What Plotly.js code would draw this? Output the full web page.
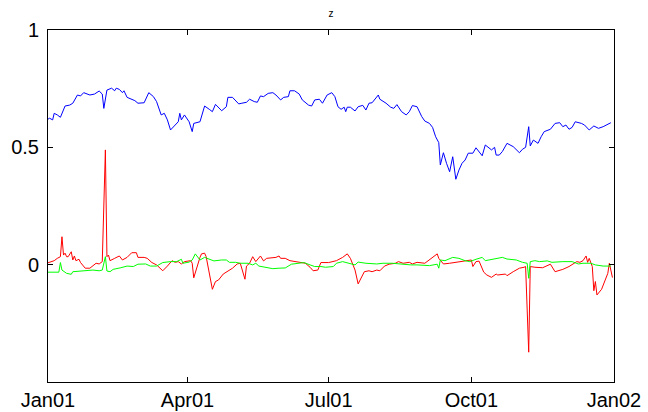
<!DOCTYPE html>
<html>
<head>
<meta charset="utf-8">
<script src="https://cdn.plot.ly/plotly-3.0.1.min.js"></script>
<style>html,body{margin:0;padding:0;background:#fff;}#chart{width:648px;height:412px;}</style>
</head>
<body>
<div id="chart"></div>
<script>
const YEAR = "2001";
const tickDates = ["2001-01-01", "2001-04-01", "2001-07-01", "2001-10-01", "2002-01-01"];
const tickLabels = ["Jan01", "Apr01", "Jul01", "Oct01", "Jan02"];
const yTicks = [0, 0.5, 1];

const blueDates = ["01-01","01-02","01-04","01-05","01-07","01-09","01-12","01-15","01-17","01-20","01-22","01-24","01-28","01-31","02-03","02-05","02-06","02-08","02-11","02-13","02-14","02-16","02-18","02-19","02-21","02-24","02-26","02-28","03-02","03-04","03-07","03-10","03-12","03-15","03-17","03-19","03-21","03-24","03-26","03-27","03-28","03-30","04-02","04-04","04-05","04-09","04-12","04-15","04-17","04-19","04-23","04-26","04-27","04-30","05-04","05-06","05-09","05-11","05-14","05-16","05-18","05-20","05-23","05-26","05-28","05-31","06-02","06-05","06-06","06-09","06-12","06-14","06-18","06-20","06-22","06-25","06-27","06-30","07-03","07-05","07-07","07-09","07-11","07-12","07-13","07-15","07-18","07-20","07-23","07-25","07-27","07-29","08-02","08-03","08-07","08-10","08-12","08-14","08-17","08-20","08-22","08-24","08-27","08-30","09-01","09-04","09-06","09-08","09-10","09-11","09-13","09-15","09-17","09-19","09-21","09-23","09-25","09-27","09-29","10-02","10-04","10-08","10-10","10-14","10-16","10-17","10-19","10-21","10-24","10-28","11-01","11-03","11-05","11-07","11-08","11-10","11-13","11-15","11-17","11-21","11-24","11-27","11-29","12-01","12-03","12-05","12-07","12-11","12-13","12-16","12-19","12-22","12-25","12-30"];
const blueValues = [0.620,0.624,0.617,0.645,0.638,0.628,0.676,0.680,0.688,0.723,0.719,0.733,0.723,0.727,0.740,0.727,0.666,0.744,0.752,0.741,0.752,0.747,0.733,0.741,0.713,0.705,0.699,0.688,0.690,0.690,0.733,0.716,0.695,0.638,0.645,0.617,0.574,0.595,0.609,0.645,0.617,0.638,0.609,0.567,0.602,0.609,0.676,0.662,0.652,0.683,0.656,0.673,0.713,0.713,0.685,0.688,0.692,0.705,0.695,0.692,0.719,0.716,0.730,0.733,0.723,0.702,0.713,0.716,0.741,0.741,0.727,0.702,0.680,0.676,0.702,0.705,0.688,0.723,0.733,0.716,0.673,0.662,0.671,0.652,0.671,0.671,0.655,0.673,0.679,0.659,0.688,0.690,0.723,0.705,0.688,0.671,0.666,0.682,0.652,0.638,0.652,0.678,0.673,0.631,0.612,0.602,0.585,0.545,0.520,0.425,0.477,0.432,0.396,0.460,0.364,0.403,0.432,0.446,0.475,0.475,0.498,0.464,0.510,0.489,0.500,0.467,0.467,0.482,0.517,0.503,0.477,0.492,0.500,0.588,0.506,0.531,0.517,0.545,0.567,0.577,0.602,0.605,0.588,0.595,0.577,0.585,0.609,0.602,0.595,0.574,0.591,0.581,0.588,0.605];

const redDates = ["01-01","01-03","01-05","01-07","01-09","01-10","01-11","01-12","01-13","01-14","01-16","01-17","01-18","01-19","01-21","01-22","01-25","01-28","01-30","02-01","02-03","02-05","02-07","02-08","02-09","02-10","02-13","02-16","02-18","02-21","02-24","02-27","02-28","03-04","03-06","03-09","03-12","03-16","03-19","03-22","03-24","03-26","03-28","03-30","04-03","04-04","04-05","04-07","04-09","04-10","04-12","04-13","04-15","04-17","04-19","04-21","04-24","04-27","04-30","05-03","05-05","05-08","05-09","05-11","05-13","05-15","05-18","05-20","05-22","05-28","05-30","05-31","06-03","06-06","06-10","06-13","06-16","06-19","06-21","06-24","06-26","07-01","07-06","07-10","07-13","07-15","07-18","07-20","07-22","07-24","07-27","07-29","08-01","08-03","08-06","08-09","08-13","08-15","08-18","08-22","08-24","08-27","09-01","09-04","09-07","09-09","09-10","09-12","09-13","09-17","09-20","09-23","09-28","10-01","10-02","10-04","10-06","10-09","10-11","10-14","10-17","10-18","10-23","10-24","10-28","11-01","11-04","11-05","11-07","11-08","11-11","11-16","11-21","11-22","11-24","11-29","12-03","12-08","12-10","12-12","12-14","12-15","12-16","12-18","12-19","12-20","12-21","12-24","12-28","12-29","12-31"];
const redValues = [0.008,0.013,0.017,0.027,0.034,0.119,0.041,0.049,0.034,0.034,0.055,0.020,0.037,0.017,0.023,0.009,-0.015,-0.015,-0.006,0.006,0.003,0.013,0.489,0.034,0.041,0.017,0.027,0.037,0.020,0.031,0.051,0.051,0.031,0.031,0.027,0.009,-0.001,-0.026,-0.006,0.017,0.010,0.013,0.003,0.013,0.017,0.006,-0.056,-0.008,0.031,0.046,0.049,0.034,-0.037,-0.105,-0.072,-0.065,-0.040,-0.026,-0.015,0.003,0.006,-0.062,-0.006,0.006,0.034,0.013,0.037,0.016,0.027,0.031,0.037,0.027,0.027,0.017,0.013,0.009,0.006,-0.011,-0.026,-0.023,0.009,0.009,0.017,0.031,0.046,0.027,-0.023,-0.082,-0.058,-0.030,-0.026,-0.030,-0.023,-0.026,-0.006,0.002,0.006,0.013,0.006,0.010,0.003,0.010,0.006,0.020,0.037,0.046,0.027,0.013,0.003,0.006,0.009,0.013,0.017,0.020,-0.008,0.013,0.015,-0.032,-0.044,-0.054,-0.040,-0.044,-0.040,-0.047,-0.030,-0.015,-0.011,-0.008,-0.373,-0.008,-0.011,-0.013,0.002,-0.011,-0.030,-0.020,-0.008,0.013,0.010,0.017,0.037,0.010,0.027,-0.008,-0.111,-0.072,-0.129,-0.105,-0.037,0.006,-0.055];

const greenDates = ["01-01","01-08","01-09","01-10","01-13","01-16","01-17","01-23","01-30","02-03","02-05","02-07","02-08","02-10","02-12","02-17","02-21","02-25","02-28","03-05","03-08","03-12","03-16","03-21","03-25","03-28","03-29","04-02","04-04","04-06","04-09","04-12","04-15","04-18","04-23","04-26","04-28","05-02","05-05","05-10","05-13","05-15","05-17","05-22","05-26","05-30","06-03","06-07","06-12","06-15","06-19","06-22","06-26","06-29","07-04","07-06","07-10","07-15","07-18","07-20","07-25","08-01","08-05","08-11","08-16","08-20","08-23","08-27","09-04","09-09","09-10","09-11","09-14","09-19","09-23","09-27","09-30","10-04","10-08","10-10","10-14","10-17","10-21","10-24","10-30","11-03","11-06","11-07","11-08","11-11","11-14","11-19","11-22","11-29","12-05","12-09","12-12","12-17","12-20","12-25","12-30"];
const greenValues = [-0.032,-0.032,0.009,-0.023,-0.037,-0.041,-0.030,-0.026,-0.023,-0.026,-0.023,0.034,-0.027,-0.030,-0.020,-0.013,-0.006,-0.008,0.002,0.003,-0.006,-0.006,0.009,0.013,0.013,0.023,0.006,0.011,0.020,0.046,0.020,0.031,0.023,0.016,0.020,0.020,0.010,0.010,0.006,0.006,-0.001,0.006,-0.006,-0.011,-0.017,-0.015,-0.014,0.002,0.006,0.009,-0.001,-0.008,-0.008,-0.011,-0.008,0.006,0.013,0.006,-0.001,0.011,0.006,0.003,0.006,0.006,0.002,0.002,-0.001,-0.001,-0.004,0.002,-0.015,0.020,0.017,0.031,0.027,0.017,0.013,0.023,0.031,0.017,0.023,0.027,0.031,0.024,0.020,0.010,0.006,-0.058,0.013,0.017,0.013,0.016,0.010,0.013,0.013,0.003,0.006,0.006,-0.001,-0.006,-0.006];

const full = d => d.map(s => YEAR + "-" + s);

const traces = [
  {x: full(blueDates), y: blueValues, type: "scatter", mode: "lines", line: {color: "#0000ff", width: 1}, hoverinfo: "skip"},
  {x: full(redDates), y: redValues, type: "scatter", mode: "lines", line: {color: "#ff0000", width: 1}, hoverinfo: "skip"},
  {x: full(greenDates), y: greenValues, type: "scatter", mode: "lines", line: {color: "#00ff00", width: 1}, hoverinfo: "skip"}
];

const axisCommon = {
  showline: true, linecolor: "#000", linewidth: 1, mirror: "allticks",
  ticks: "inside", ticklen: 5, tickcolor: "#000", tickwidth: 1,
  showgrid: false, zeroline: false,
  tickfont: {family: "Liberation Sans, Arial, sans-serif", size: 20, color: "#000"}
};

const layout = {
  width: 648, height: 412,
  margin: {l: 48, r: 34, t: 30, b: 30},
  paper_bgcolor: "#fff", plot_bgcolor: "#fff",
  showlegend: false,
  title: {text: "z", font: {family: "Liberation Sans, Arial, sans-serif", size: 10, color: "#000"}, x: 0.5107, xanchor: "center", y: 0.975, yanchor: "top"},
  xaxis: Object.assign({}, axisCommon, {type: "date", range: ["2001-01-01", "2002-01-01"], tickmode: "array", tickvals: tickDates, ticktext: tickLabels, ticklabelstandoff: 0}),
  yaxis: Object.assign({}, axisCommon, {range: [-0.5, 1], tickmode: "array", tickvals: yTicks, ticktext: ["0", "0.5", "1"], ticklabelstandoff: 4})
};

Plotly.newPlot("chart", traces, layout, {staticPlot: true, displayModeBar: false});
</script>
</body>
</html>
